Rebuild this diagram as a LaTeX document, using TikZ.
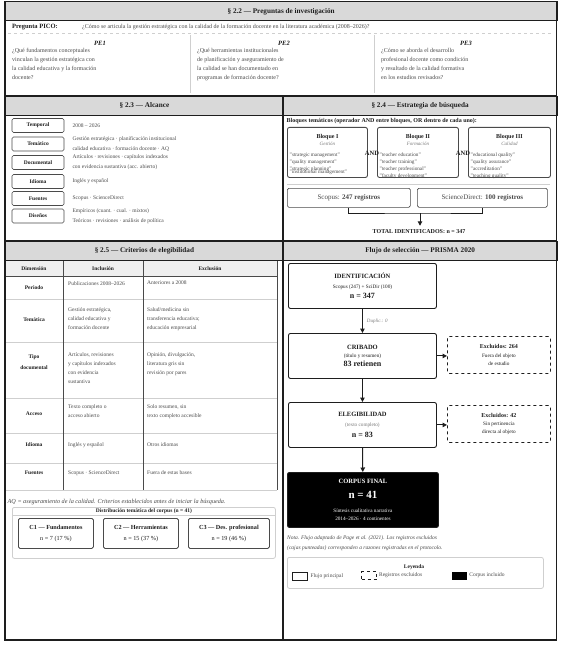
\documentclass[tikz,border=0pt]{standalone}
\usepackage{fontspec}
\setmainfont{Liberation Serif}
\usetikzlibrary{positioning,arrows.meta}
\definecolor{grisbanda}{HTML}{D9D9D9}
\definecolor{tinta}{HTML}{1E1E1E}
\definecolor{grisosc}{HTML}{4A4A4A}
\definecolor{grismed}{HTML}{7A7A7A}
\definecolor{grisclaro}{HTML}{CFCFCF}
\definecolor{grisfondo}{HTML}{EFEFEF}
\newcommand*{\letra}[2]{\fontsize{#1}{#2}\selectfont}
\newcommand*{\fijo}{\lineskiplimit=-100pt}

\begin{document}
\begin{tikzpicture}[x=1pt,y=-1pt,
    every node/.style={inner sep=0pt,text=tinta},
    banda/.style={fill=grisbanda,draw=tinta,line width=0.8pt,anchor=north west,
      minimum height=19pt,font=\letra{7.2}{8}\bfseries},
    cuerpo/.style={anchor=north west,align=left,text=grisosc,font=\letra{6}{9}},
    etiqueta/.style={draw=grisosc,line width=0.7pt,rounded corners=1.5pt,
      minimum width=52pt,minimum height=14pt,font=\letra{5.5}{7}\bfseries},
    valor/.style={right=8pt of #1,align=left,text=grisosc,font=\letra{5.5}{10}},
    bloque/.style={draw=grisosc,line width=0.9pt,rounded corners=2pt,
      minimum height=50pt,anchor=north west},
    termino/.style={anchor=north west,align=left,text=grisosc,font=\letra{5.2}{6.8}},
    registro/.style={draw=grisosc,line width=0.7pt,rounded corners=1.5pt,
      minimum height=19pt,anchor=north west,text=grisosc,font=\letra{7}{8}},
    celda/.style={anchor=north west,align=left,text=grisosc,font=\letra{5.5}{9}},
    dimension/.style={align=center,font=\letra{5.5}{11}\bfseries},
    categoria/.style={draw=grisosc,line width=0.8pt,rounded corners=1.5pt,
      minimum height=30pt,anchor=north west,align=center,font=\letra{6.2}{11}},
    paso/.style={draw=tinta,line width=0.9pt,rounded corners=2pt,
      minimum width=148pt,minimum height=45pt,anchor=north west,align=center,
      font=\letra{5.2}{9}\fijo},
    excluido/.style={draw=tinta,line width=0.8pt,dashed,rounded corners=2pt,
      minimum width=103pt,minimum height=37pt,anchor=north west,align=center,
      font=\letra{5.2}{9}\fijo},
    flecha/.style={-{Triangle[length=4.5pt,width=4.5pt]},line width=1pt,draw=tinta},
  ]
\useasboundingbox (0,0) rectangle (569,655);
\fill[white] (0,0) rectangle (569,655);

% 2.2 preguntas
\node[banda,minimum width=551.5pt] (b22) at (5,1.5) {§ 2.2 — Preguntas de investigación};
\node[anchor=west,font=\letra{6.5}{7}\bfseries] (pico) at (12,27) {Pregunta PICO:};
\node[anchor=west,text=grisosc,font=\letra{6}{7}] (picoq) at (82,27)
  {¿Cómo se articula la gestión estratégica con la calidad de la formación docente en la literatura académica (2008–2026)?};
\draw[grisclaro,dashed,line width=0.6pt] (8,33.5) -- (553,33.5);
\draw[grisclaro,line width=0.7pt] (190,35) -- (190,93) (374,35) -- (374,93);
\node[font=\letra{6.5}{7}\bfseries\itshape] (pe1) at (100,43) {PE1};
\node[font=\letra{6.5}{7}\bfseries\itshape] (pe2) at (284,43) {PE2};
\node[font=\letra{6.5}{7}\bfseries\itshape] (pe3) at (466,43) {PE3};
\node[cuerpo] (pe1txt) at (12,48.5) {¿Qué fundamentos conceptuales\\vinculan la gestión estratégica con\\la calidad educativa y la formación\\docente?};
\node[cuerpo] (pe2txt) at (197,48.5) {¿Qué herramientas institucionales\\de planificación y aseguramiento de\\la calidad se han documentado en\\programas de formación docente?};
\node[cuerpo] (pe3txt) at (381,48.5) {¿Cómo se aborda el desarrollo\\profesional docente como condición\\y resultado de la calidad formativa\\en los estudios revisados?};

% 2.3 alcance
\node[banda,minimum width=278pt] (b23) at (5,96) {§ 2.3 — Alcance};
\node[etiqueta] (temporal) at (38,125.5) {Temporal};
\node[etiqueta] (tematico) at (38,144) {Temático};
\node[etiqueta] (documental) at (38,162.5) {Documental};
\node[etiqueta] (idioma) at (38,181.5) {Idioma};
\node[etiqueta] (fuentes) at (38,198.5) {Fuentes};
\node[etiqueta] (disenos) at (38,216) {Diseños};
\node[valor=temporal] (vtemporal) {2008 – 2026};
\node[valor=tematico] (vtematico) {Gestión estratégica · planificación institucional\\calidad educativa · formación docente · AQ};
\node[valor=documental] (vdocumental) {Artículos · revisiones · capítulos indexados\\con evidencia sustantiva (acc. abierto)};
\node[valor=idioma] (vidioma) {Inglés y español};
\node[valor=fuentes] (vfuentes) {Scopus · ScienceDirect};
\node[valor=disenos] (vdisenos) {Empíricos (cuant. · cual. · mixtos)\\Teóricos · revisiones · análisis de política};

% 2.4 estrategia
\node[banda,minimum width=273.5pt] (b24) at (283,96) {§ 2.4 — Estrategia de búsqueda};
\node[anchor=west,font=\letra{6}{7}\bfseries] (bloqtit) at (286.5,121)
  {Bloques temáticos (operador AND entre bloques, OR dentro de cada uno):};
\node[bloque,minimum width=80pt] (bq1) at (287,127) {};
\node[bloque,minimum width=81pt] (bq2) at (377,127) {};
\node[bloque,minimum width=82pt] (bq3) at (468,127) {};
\node[font=\letra{6}{7}\bfseries] (bq1t) at ([yshift=-10pt]bq1.north) {Bloque I};
\node[font=\letra{6}{7}\bfseries] (bq2t) at ([yshift=-10pt]bq2.north) {Bloque II};
\node[font=\letra{6}{7}\bfseries] (bq3t) at ([yshift=-10pt]bq3.north) {Bloque III};
\node[font=\letra{5}{6}\itshape,text=grismed] (bq1s) at ([yshift=-17pt]bq1.north) {Gestión};
\node[font=\letra{5}{6}\itshape,text=grismed] (bq2s) at ([yshift=-17pt]bq2.north) {Formación};
\node[font=\letra{5}{6}\itshape,text=grismed] (bq3s) at ([yshift=-17pt]bq3.north) {Calidad};
\node[termino] (bq1l) at ([xshift=2.5pt,yshift=-26pt]bq1.north west)
  {"strategic management"\\"quality management"\\"strategic planning"\\[-3.8pt]"institutional management"};
\node[termino] (bq2l) at ([xshift=2.5pt,yshift=-26pt]bq2.north west)
  {"teacher education"\\"teacher training"\\"teacher professional"\\"faculty development"};
\node[termino] (bq3l) at ([xshift=2.5pt,yshift=-26pt]bq3.north west)
  {"educational quality"\\"quality assurance"\\"accreditation"\\"teaching quality"};
\node[font=\letra{6.5}{7}\bfseries] (and1) at (372,153) {AND};
\node[font=\letra{6.5}{7}\bfseries] (and2) at (463,153) {AND};
\draw[grisclaro,line width=1pt] (287,184) -- (550,184);
\node[registro,minimum width=123pt] (scopus) at (287,188) {Scopus: \textbf{247 registros}};
\node[registro,minimum width=130pt] (scidir) at (417,188) {ScienceDirect: \textbf{100 registros}};
\coordinate (union) at (420,213);
\draw[tinta,line width=0.8pt] (scopus.south) |- (union) -| (scidir.south);
\node[font=\letra{6}{7}\bfseries] (total) at (419,232) {TOTAL IDENTIFICADOS: n = 347};
\draw[flecha] (union) -- ([yshift=4pt]total.north -| union);

% 2.5 criterios
\node[banda,minimum width=278pt] (b25) at (5,241) {§ 2.5 — Criterios de elegibilidad};
\fill[grisfondo] (5,261) rectangle (277,276);
\draw[grisclaro,line width=0.6pt] (5,299) -- (277,299) (5,342) -- (277,342) (5,398) -- (277,398)
  (5,433) -- (277,433) (5,463) -- (277,463) (5,490) -- (277,490);
\draw[grisosc,line width=0.7pt] (5,276) -- (277,276) (63,261) -- (63,490) (143,261) -- (143,490) (277,261) -- (277,490);
\node[font=\letra{5.5}{7}\bfseries] (hdim) at (34,268.5) {Dimensión};
\node[font=\letra{5.5}{7}\bfseries] (hinc) at (103,268.5) {Inclusión};
\node[font=\letra{5.5}{7}\bfseries] (hexc) at (210,268.5) {Exclusión};

\node[dimension] (dperiodo) at (34,288) {Periodo};
\node[celda] (iperiodo) at (68,281) {Publicaciones 2008–2026};
\node[celda] (eperiodo) at (147,281) {Anteriores a 2008};
\node[dimension] (dtematica) at (34,320) {Temática};
\node[celda] (itematica) at (68,307.5) {Gestión estratégica,\\calidad educativa y\\formación docente};
\node[celda] (etematica) at (147,307.5) {Salud/medicina sin\\transferencia educativa;\\educación empresarial};
\node[dimension] (dtipo) at (34,362.5) {Tipo\\documental};
\node[celda] (itipo) at (68,352.5) {Artículos, revisiones\\y capítulos indexados\\con evidencia\\sustantiva};
\node[celda] (etipo) at (147,352.5) {Opinión, divulgación,\\literatura gris sin\\revisión por pares};
\node[dimension] (dacceso) at (34,414) {Acceso};
\node[celda] (iacceso) at (68,404.5) {Texto completo o\\acceso abierto};
\node[celda] (eacceso) at (147,404.5) {Solo resumen, sin\\texto completo accesible};
\node[dimension] (didioma) at (34,445) {Idioma};
\node[celda] (iidioma) at (68,442.5) {Inglés y español};
\node[celda] (eidioma) at (147,442.5) {Otros idiomas};
\node[dimension] (dfuentes) at (34,473) {Fuentes};
\node[celda] (ifuentes) at (68,470.5) {Scopus · ScienceDirect};
\node[celda] (efuentes) at (147,470.5) {Fuera de estas bases};
\node[anchor=west,font=\letra{6.2}{7}\itshape,text=grisosc] (notaaq) at (7.5,502)
  {AQ = aseguramiento de la calidad. Criterios establecidos antes de iniciar la búsqueda.};

\node[draw=grisclaro,line width=0.8pt,rounded corners=2pt,minimum width=263pt,
  minimum height=51pt,anchor=north west] (distrib) at (12,507) {};
\node[font=\letra{5.5}{7}\bfseries] (distit) at ([yshift=-4.5pt]distrib.north) {Distribución temática del corpus (n = 41)};
\draw[grisclaro,line width=0.6pt] ([yshift=-8pt]distrib.north west) -- ([yshift=-8pt]distrib.north east);
\node[categoria,minimum width=75pt] (c1) at (18,518) {\textbf{C1 — Fundamentos}\\n = 7 (17 \%)};
\node[categoria,minimum width=75pt] (c2) at (103,518) {\textbf{C2 — Herramientas}\\n = 15 (37 \%)};
\node[categoria,minimum width=81pt] (c3) at (188,518) {\textbf{C3 — Des. profesional}\\n = 19 (46 \%)};

% flujo prisma
\node[banda,minimum width=273.5pt] (bpr) at (283,241) {Flujo de selección — PRISMA 2020};
\node[paso] (ident) at (288,263)
  {{\letra{6.5}{7}\bfseries IDENTIFICACIÓN}\\[0.6pt]Scopus (247) + SciDir (100)\\[1.7pt]{\letra{8}{9}\bfseries n = 347}};
\node[paso] (crib) at (288,333)
  {{\letra{6.5}{7}\bfseries CRIBADO}\\[-0.4pt](título y resumen)\\[0.2pt]{\letra{8}{9}\bfseries 83 retienen}};
\node[paso] (elig) at (288,402)
  {{\letra{6.5}{7}\bfseries ELEGIBILIDAD}\\[0.6pt]{\color{grismed}(texto completo)}\\[2.2pt]{\letra{8}{9}\bfseries n = 83}};
\node[paso,fill=black,minimum width=151pt,minimum height=55pt,text=white] (final) at (287,472)
  {{\letra{6.5}{7}\bfseries CORPUS FINAL}\\[5.8pt]{\letra{11}{12}\bfseries n = 41}\\[4.8pt]
   Síntesis cualitativa narrativa\\[-1pt]2014–2026 · 4 continentes};
\node[excluido] (excl1) at (447,336)
  {{\letra{6}{7}\bfseries Excluidos: 264}\\[-0.4pt]Fuera del objeto\\[-1pt]de estudio};
\node[excluido] (excl2) at (447,405)
  {{\letra{6}{7}\bfseries Excluidos: 42}\\[-0.4pt]Sin pertinencia\\[-1pt]directa al objeto};
\draw[flecha] (ident) -- node[right=4pt,font=\letra{5}{6}\itshape,text=grismed] (duplic) {Duplic.: 0} (crib);
\draw[flecha] (crib) -- (elig);
\draw[flecha] (elig) -- (final);
\draw[flecha] (crib.east) -- (crib.east -| excl1.west);
\draw[flecha] (elig.east) -- (elig.east -| excl2.west);
\node[anchor=north west,align=left,font=\letra{5.5}{10}\itshape,text=grisosc] (nota) at (287,535)
  {Nota. Flujo adaptado de Page et al. (2021). Los registros excluidos\\(cajas punteadas) corresponden a razones registradas en el protocolo.};

\node[draw=grisclaro,line width=0.8pt,rounded corners=2pt,minimum width=256pt,
  minimum height=31pt,anchor=north west] (leyenda) at (287,557) {};
\node[font=\letra{5.5}{7}\bfseries] (leytit) at (414,567) {Leyenda};
\node[draw=tinta,line width=0.9pt,minimum width=15pt,minimum height=8pt] (leyflujo) at (299.5,576) {};
\node[right=3pt of leyflujo,font=\letra{5.5}{7},text=grisosc] (leyflujot) {Flujo principal};
\node[draw=tinta,line width=0.8pt,dashed,minimum width=15pt,minimum height=8pt] (leyexcl) at (369,575.5) {};
\node[right=2pt of leyexcl,font=\letra{5.5}{7},text=grisosc] (leyexclt) {Registros excluidos};
\node[fill=black,minimum width=15pt,minimum height=8pt] (leycorp) at (459.5,575.5) {};
\node[right=2pt of leycorp,font=\letra{5.5}{7},text=grisosc] (leycorpt) {Corpus incluido};

% marco
\draw[tinta,line width=1.6pt] (5,1.5) rectangle (556.5,640);
\draw[tinta,line width=1.6pt] (5,95.5) -- (556.5,95.5) (5,240.5) -- (556.5,240.5) (283,95.5) -- (283,640);
\end{tikzpicture}
\end{document}
